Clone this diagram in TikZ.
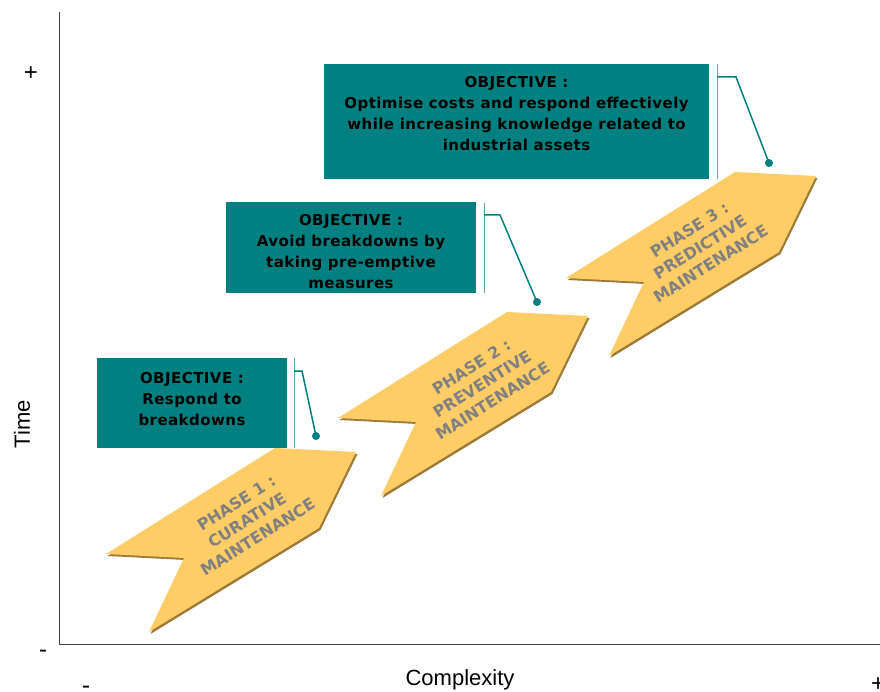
\documentclass[tikz,border=0pt]{standalone}
\usepackage{fontspec}
\setmainfont{DejaVu Sans}
\newfontfamily\arialf{Liberation Sans}
\newfontfamily\objfont[LetterSpace=3]{DejaVu Sans Bold}
\definecolor{tealbox}{HTML}{008080}
\definecolor{arrowfill}{HTML}{FFCC66}
\definecolor{arrowshade}{HTML}{9C7A38}
\definecolor{tealline}{HTML}{5FA8A8}
\definecolor{phasegray}{HTML}{808080}
\begin{document}
\begin{tikzpicture}[x=1pt,y=-1pt,
  axis/.style={draw=black!75, line width=1pt},
  axislabel/.style={font=\arialf\fontsize{22}{26}\selectfont, inner sep=0pt},
  signlabel/.style={font=\arialf\fontsize{24}{26}\selectfont, inner sep=0pt},
  objbox/.style={fill=tealbox, draw=none, inner sep=0pt},
  objtext/.style={font=\objfont\fontsize{15}{21}\selectfont, align=center, inner sep=0pt, text=black},
  phasetext/.style={font=\bfseries\fontsize{16}{20}\selectfont, align=center, inner sep=0pt, text=phasegray, rotate=32},
  tealrule/.style={draw=tealline, line width=1pt},
  callout/.style={draw=tealbox, line width=1.5pt},
  dot/.style={fill=tealbox},
  phasearrow/.pic={
    \fill[arrowshade] (1.5,2) -- (82.5,6) -- (45.5,82) -- (-124.5,186) -- (-89.5,112) -- (-167.5,108) -- cycle;
    \fill[arrowfill] (0,0) -- (81,4) -- (44,80) -- (-126,184) -- (-91,110) -- (-169,106) -- cycle;
  }]
\useasboundingbox (0,0) rectangle (880,692);

% axes
\coordinate (origin) at (59,644);
\coordinate (ytop) at (59,12);
\coordinate (xend) at (880,644);
\draw[axis] (ytop) -- (origin) -- (xend);
\node[signlabel] (yplus) at (31,74) {+};
\node[signlabel] (yminus) at (43,654) {-};
\node[signlabel] (xminus) at (86,690) {-};
\node[signlabel] (xplus) at (878,685) {+};
\node[axislabel, rotate=90] (timelbl) at (22,424) {Time};
\node[axislabel] (cpxlbl) at (460,680) {Complexity};

% phase arrows
\pic (a1) at (275,448) {phasearrow};
\pic (a2) at (507,312) {phasearrow};
\pic (a3) at (735,172) {phasearrow};
\node[phasetext] (p1) at (247,520) {PHASE 1 :\\CURATIVE\\MAINTENANCE};
\node[phasetext] (p2) at (482,384) {PHASE 2 :\\PREVENTIVE\\MAINTENANCE};
\node[phasetext] (p3) at (700,247) {PHASE 3 :\\PREDICTIVE\\MAINTENANCE};

% objective boxes
\node[objbox, minimum width=190, minimum height=90] (b1) at (192,402.5) {};
\node[objbox, minimum width=250, minimum height=91] (b2) at (351,247.5) {};
\node[objbox, minimum width=385, minimum height=115] (b3) at (516.5,121.5) {};
\node[objtext, anchor=north] (t1) at (192,372) {OBJECTIVE :\\Respond to\\breakdowns};
\node[objtext, anchor=north] (t2) at (351,214) {OBJECTIVE :\\Avoid breakdowns by\\taking pre-emptive\\measures};
\node[objtext, anchor=north] (t3) at (516.5,76) {OBJECTIVE :\\Optimise costs and respond effectively\\while increasing knowledge related to\\industrial assets};

% thin rules beside boxes
\coordinate (r1t) at (294,358); \coordinate (r1b) at (294,448);
\coordinate (r2t) at (484,203); \coordinate (r2b) at (484,293);
\coordinate (r3t) at (717,64);  \coordinate (r3b) at (717,179);
\draw[tealrule] (r1t) -- (r1b);
\draw[tealrule] (r2t) -- (r2b);
\draw[tealrule] (r3t) -- (r3b);

% callouts
\coordinate (c1) at (294,371); \coordinate (d1) at (316,436);
\coordinate (c2) at (484,215); \coordinate (d2) at (537,302);
\coordinate (c3) at (717,77);  \coordinate (d3) at (769,163);
\draw[callout] (c1) -- ++(8,0) -- (d1);
\draw[callout] (c2) -- ++(16,0) -- (d2);
\draw[callout] (c3) -- ++(19,0) -- (d3);
\fill[dot] (d1) circle (4);
\fill[dot] (d2) circle (4);
\fill[dot] (d3) circle (4);
\end{tikzpicture}
\end{document}
